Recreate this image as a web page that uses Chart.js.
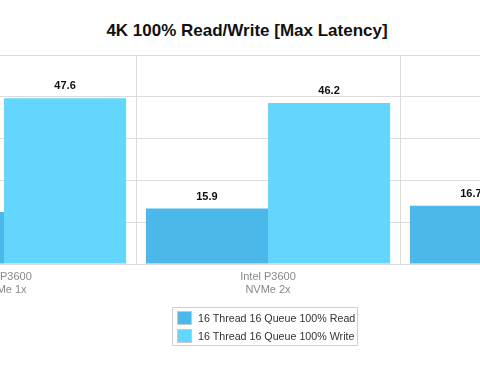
<!DOCTYPE html>
<html>
<head>
<meta charset="utf-8">
<script src="https://cdn.jsdelivr.net/npm/chart.js@4/dist/chart.umd.min.js"></script>
<style>
  html, body { margin: 0; padding: 0; background: #fff; overflow: hidden; }
  body { width: 480px; height: 380px; position: relative; font-family: "Liberation Sans", Arial, sans-serif; }
  #titulo { position: absolute; left: 0; top: 21px; width: 494px; text-align: center; font-weight: bold; font-size: 17px; color: #111; white-space: nowrap; }
  #caja { position: absolute; left: 0; top: 0; width: 880px; height: 310px; transform: translateX(-200px); }
  #leyenda { position: absolute; left: 172px; top: 307px; width: 184px; height: 35px; border: 1px solid #cfcfcf; padding: 1px 0; }
  .fila { height: 18px; display: flex; align-items: center; font-size: 10.7px; color: #333; white-space: nowrap; }
  .muestra { flex: none; width: 13px; height: 12px; margin: 0 6px 0 4px; border: 1px solid #c8c8c8; }
</style>
</head>
<body>
<div id="titulo">4K 100% Read/Write [Max Latency]</div>
<div id="caja"><canvas id="grafico" width="880" height="310"></canvas></div>
<div id="leyenda"></div>
<script>
// datos
const categorias = [['Intel P3600', 'NVMe 1x'], ['Intel P3600', 'NVMe 2x'], ['LSI Nytro WarpDrive', 'BLP4-1600']];
const nombresSeries = ['16 Thread 16 Queue 100% Read', '16 Thread 16 Queue 100% Write'];
const valoresLectura = [14.9, 15.9, 16.7];
const valoresEscritura = [47.6, 46.2, 44.5];
const ticksY = [0, 12, 24, 36, 48, 60];

const coloresSeries = ['#4cb8ea', '#64d6fe'];
const gris = '#dcdcdc';

// etiquetas de valor encima de cada barra
const etiquetasValor = {
    id: 'etiquetasValor',
    afterDatasetsDraw(chart) {
        const ctx = chart.ctx;
        ctx.save();
        ctx.font = 'bold 11px "Liberation Sans", Arial, sans-serif';
        ctx.fillStyle = '#111';
        ctx.textAlign = 'center';
        ctx.textBaseline = 'middle';
        chart.data.datasets.forEach((ds, i) => {
            chart.getDatasetMeta(i).data.forEach((barra, j) => {
                ctx.fillText(ds.data[j].toFixed(1), barra.x, barra.y - 12);
            });
        });
        ctx.restore();
    }
};

new Chart(document.getElementById('grafico'), {
    type: 'bar',
    data: {
        labels: categorias,
        datasets: [
            { label: nombresSeries[0], data: valoresLectura, backgroundColor: coloresSeries[0] },
            { label: nombresSeries[1], data: valoresEscritura, backgroundColor: coloresSeries[1] }
        ]
    },
    options: {
        responsive: false,
        animation: false,
        layout: { padding: { top: 55, right: 16, left: 0, bottom: 0 } },
        categoryPercentage: 0.925,
        barPercentage: 1,
        plugins: {
            legend: { display: false },
            tooltip: { enabled: false }
        },
        scales: {
            x: {
                grid: { color: gris, drawTicks: false },
                border: { color: gris },
                ticks: {
                    color: '#888',
                    padding: 6,
                    font: { family: '"Liberation Sans", Arial, sans-serif', size: 11 }
                },
                afterFit: (eje) => { eje.height = 46; }
            },
            y: {
                min: ticksY[0],
                max: ticksY[ticksY.length - 1],
                grid: { color: gris, drawTicks: false },
                border: { display: false },
                ticks: {
                    stepSize: ticksY[1] - ticksY[0],
                    color: '#888',
                    font: { family: '"Liberation Sans", Arial, sans-serif', size: 11 }
                },
                afterFit: (eje) => { eje.width = 72; }
            }
        }
    },
    plugins: [etiquetasValor]
});

// leyenda con borde
const leyenda = document.getElementById('leyenda');
nombresSeries.forEach((nombre, i) => {
    leyenda.innerHTML += `<div class="fila"><span class="muestra" style="background:${coloresSeries[i]}"></span>${nombre}</div>`;
});
</script>
</body>
</html>
